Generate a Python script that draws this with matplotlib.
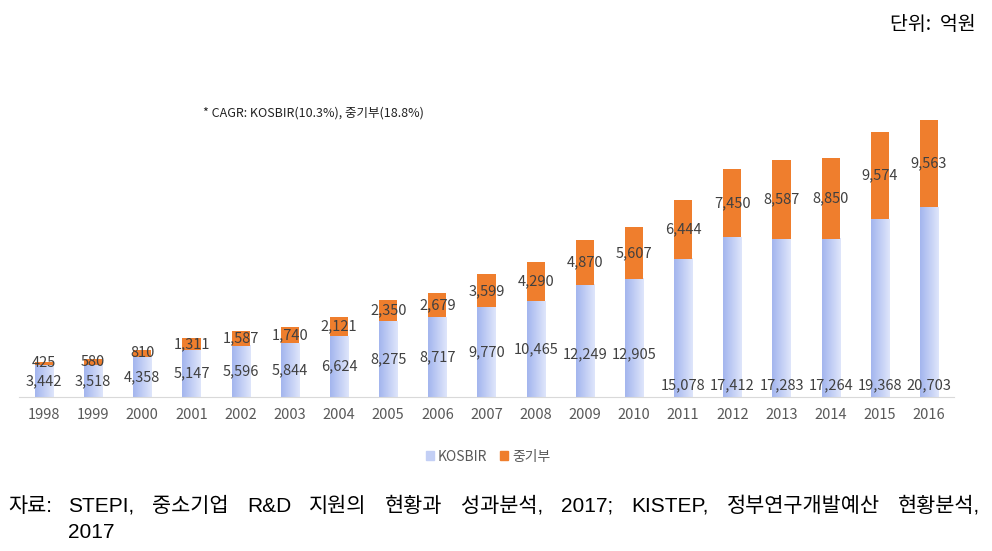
import numpy as np
import matplotlib.pyplot as plt
from matplotlib.colors import LinearSegmentedColormap
from matplotlib.patches import Patch

years = [str(y) for y in range(1998, 2017)]
kosbir = [3442, 3518, 4358, 5147, 5596, 5844, 6624, 8275, 8717, 9770,
          10465, 12249, 12905, 15078, 17412, 17283, 17264, 19368, 20703]
jungibu = [425, 580, 810, 1311, 1587, 1740, 2121, 2350, 2679, 3599,
           4290, 4870, 5607, 6444, 7450, 8587, 8850, 9574, 9563]

KR = ['Noto Sans CJK KR', 'DejaVu Sans']
plt.rcParams['font.family'] = KR

blue_l, blue_r = '#a3b5ee', '#dfe6fb'
orange = '#ef7e2d'
txt = '#404040'

fig = plt.figure(figsize=(9.92, 5.51), dpi=100)
ax = fig.add_axes([0.0196, 0.2795, 0.9417, 0.539])

x = np.arange(len(years))
w = 0.37
b1 = ax.bar(x, kosbir, w, color='none', zorder=2)
b2 = ax.bar(x, jungibu, w, bottom=kosbir, color=orange, zorder=2)

# horizontal gradient on blue bars
cmap = LinearSegmentedColormap.from_list('kb', [blue_l, blue_r])
grad = np.linspace(0, 1, 64).reshape(1, -1)
for r in b1:
    x0, y0 = r.get_x(), r.get_y()
    ax.imshow(grad, extent=[x0, x0 + r.get_width(), y0, y0 + r.get_height()],
              aspect='auto', cmap=cmap, zorder=1.5, interpolation='bicubic')

ax.set_xlim(-0.5, len(years) - 0.5)
ax.set_ylim(0, 32400)

for i, (k, j) in enumerate(zip(kosbir, jungibu)):
    if k <= 10500:
        ky = k / 2
    elif k < 14000:
        ky = 4700
    else:
        ky = 1300
    ax.text(i, ky, f'{k:,}', ha='center', va='center', fontsize=10.5,
            color=txt, zorder=3)
    ax.text(i, k + j / 2, f'{j:,}', ha='center', va='center', fontsize=10.5,
            color=txt, zorder=3)

ax.set_xticks(x)
ax.set_xticklabels(years, fontsize=10.5, color='#595959')
ax.tick_params(axis='x', length=0, pad=8)
ax.set_yticks([])
for s in ['top', 'left', 'right']:
    ax.spines[s].set_visible(False)
ax.spines['bottom'].set_color('#d9d9d9')

fig.text(0.983, 0.955, '단위:  억원', ha='right', va='center', fontsize=14,
         color='black')
fig.text(0.205, 0.795, '* CAGR: KOSBIR(10.3%), 중기부(18.8%)', ha='left',
         va='center', fontsize=9, color='#222222')

handles = [Patch(color='#c3cff5', label='KOSBIR'),
           Patch(color=orange, label='중기부')]
leg = fig.legend(handles=handles, loc='center', bbox_to_anchor=(0.492, 0.171),
                 ncol=2, frameon=False, fontsize=10, handlelength=0.6,
                 handleheight=0.6, handletextpad=0.3, columnspacing=0.9)
for t in leg.get_texts():
    t.set_color('#595959')

# footer, justified
fs = 15
foot = ['Liberation Sans', 'Noto Sans CJK KR', 'DejaVu Sans']
y1, y2 = 1 - 506 / 551, 1 - 533 / 551
fig.text(8 / 992, y1, '자료:', ha='left', va='center', fontsize=fs,
         color='black', family=foot)
words = ['STEPI,', '중소기업', 'R&D', '지원의', '현황과', '성과분석,', '2017;',
         'KISTEP,', '정부연구개발예산', '현황분석,']
fig.canvas.draw()
r = fig.canvas.get_renderer()
objs = [fig.text(0, y1, wd, ha='left', va='center', fontsize=fs,
                 color='black', family=foot) for wd in words]
widths = [o.get_window_extent(r).width for o in objs]
left, right = 68, 980
gap = (right - left - sum(widths)) / (len(words) - 1)
pos = left
for o, wd in zip(objs, widths):
    o.set_x(pos / 992)
    pos += wd + gap
fig.text(68 / 992, y2, '2017', ha='left', va='center', fontsize=fs,
         color='black', family=foot)

fig.savefig('out.png', dpi=100)
